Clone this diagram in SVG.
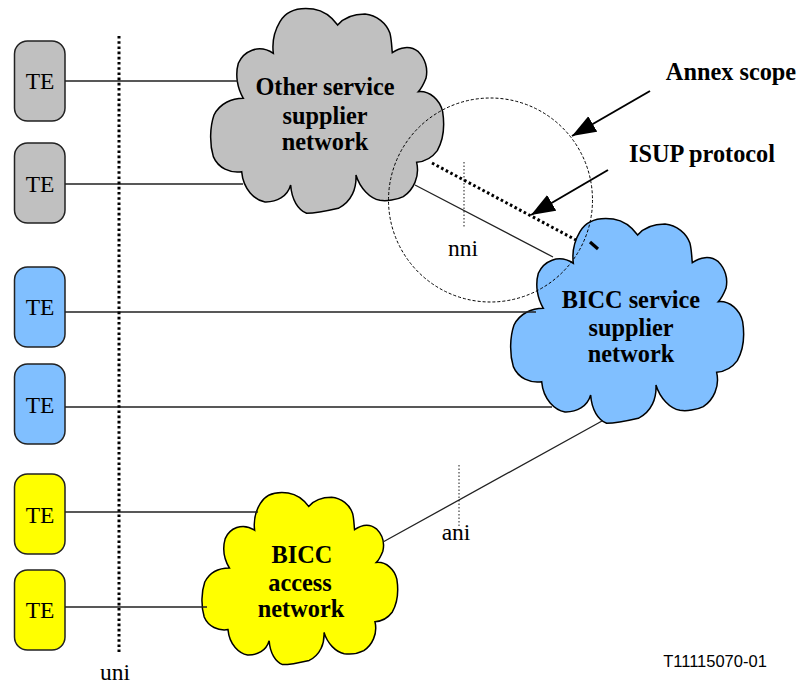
<svg xmlns="http://www.w3.org/2000/svg" xmlns:xlink="http://www.w3.org/1999/xlink" width="798" height="684" viewBox="0 0 798 684">
<style>
text{font-family:"Liberation Serif","Times New Roman",serif;fill:#000;text-anchor:middle}
.b{font-weight:bold;font-size:24.300px}
.r{font-size:23.500px}
.te{stroke:#222;stroke-width:1.5}
.cl{stroke:#000;stroke-width:1.5;vector-effect:non-scaling-stroke}
.ln{stroke:#222;stroke-width:1.3;fill:none}
.dot{stroke:#000;stroke-width:.9;stroke-dasharray:1.5 2;fill:none}
.thick{stroke:#000;stroke-width:3;stroke-dasharray:2.6 2.6;fill:none}
.arr{stroke:#000;stroke-width:2;fill:none;marker-end:url(#ah)}
</style>
<defs>
<marker id="ah" markerUnits="userSpaceOnUse" markerWidth="26" markerHeight="20" refX="24" refY="9" orient="auto"><path d="M0 0L24 9L0 18Z" fill="#000"/></marker>
<path id="cloud" class="cl" d="M220 160C215 120 225 90 240 65C260 30 300 22 340 27C370 32 395 50 413 75C430 55 460 42 495 42C530 45 560 70 570 100C575 120 575 140 577 158C600 142 630 135 655 155C675 175 685 205 678 235C672 250 665 265 655 275C690 272 720 300 728 335C735 380 730 420 712 452C695 475 675 485 650 487C660 530 640 570 610 590C590 600 560 604 540 601C510 595 480 565 468 525C470 565 455 605 415 625C385 632 345 640 320 640C295 630 275 600 272 555C262 590 230 607 195 606C165 600 130 570 125 515C90 520 55 505 40 470C28 430 30 380 42 345C60 310 95 295 130 295C112 265 105 225 115 190C130 155 175 130 220 160Z"/>
</defs>
<g id="cloud-other"><use xlink:href="#cloud" href="#cloud" fill="#c0c0c0" transform="translate(200 0) scale(.3333)"/><text class="b" x="325" y="95">Other service</text><text class="b" x="325" y="124">supplier</text><text class="b" x="325" y="150">network</text></g>
<g id="cloud-bicc-service"><use xlink:href="#cloud" href="#cloud" fill="#80bfff" transform="translate(500 210) scale(.3333)"/><text class="b" x="631" y="308">BICC service</text><text class="b" x="631" y="336">supplier</text><text class="b" x="631" y="362">network</text></g>
<g id="cloud-bicc-access"><use xlink:href="#cloud" href="#cloud" fill="#ffff00" transform="translate(193 485.4) scale(.28)"/><text class="b" x="302" y="563">BICC</text><text class="b" x="300" y="591">access</text><text class="b" x="301" y="617">network</text></g>
<g id="connectors">
<path class="ln" d="M65 81H238M65 184H243M62 312H536M65 407H552M65 512H258M65 607H207M415 185L553 257M383 542L602 421"/>
<path class="dot" d="M464 162V228M459 465V528"/>
<path class="thick" d="M119 36V652M432 163L576 240"/>
<path d="M590 242L598 249" stroke="#000" stroke-width="3.2" fill="none"/>
<path class="arr" d="M650 91L572 136"/>
<path class="arr" d="M608 170L531 215"/>
</g>
<g id="annex-circle"><circle cx="490.5" cy="200" r="102" fill="none" stroke="#000" stroke-width="1" stroke-dasharray="3 2"/></g>
<g id="te1"><rect class="te" x="14.500" y="41" width="50.500" height="80" rx="13" fill="#c0c0c0"/><text class="r" x="40" y="89">TE</text></g>
<g id="te2"><rect class="te" x="14.500" y="143" width="50.500" height="80" rx="13" fill="#c0c0c0"/><text class="r" x="40" y="192">TE</text></g>
<g id="te3"><rect class="te" x="14.500" y="267" width="50.500" height="80" rx="13" fill="#80bfff"/><text class="r" x="40" y="315">TE</text></g>
<g id="te4"><rect class="te" x="14.500" y="364" width="50.500" height="80" rx="13" fill="#80bfff"/><text class="r" x="40" y="413">TE</text></g>
<g id="te5"><rect class="te" x="14.500" y="474" width="50.500" height="80" rx="13" fill="#ffff00"/><text class="r" x="40" y="523">TE</text></g>
<g id="te6"><rect class="te" x="14.500" y="570" width="50.500" height="80" rx="13" fill="#ffff00"/><text class="r" x="40" y="618">TE</text></g>
<g id="labels">
<text class="b" x="731" y="80">Annex scope</text>
<text class="b" x="702" y="162">ISUP protocol</text>
<text class="r" x="463" y="256">nni</text>
<text class="r" x="456" y="540">ani</text>
<text class="r" x="115" y="680">uni</text>
<text x="715" y="667" style="font-family:'Liberation Sans',Arial,sans-serif;font-size:16.500px">T11115070-01</text>
</g>
</svg>
